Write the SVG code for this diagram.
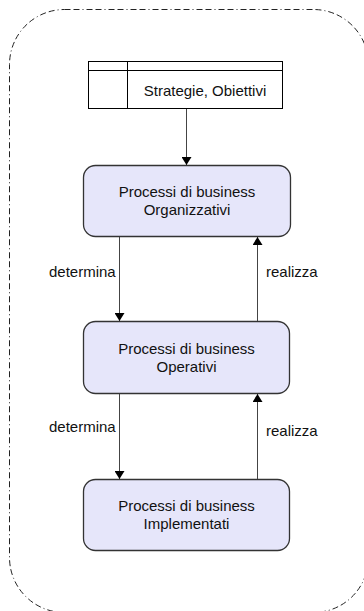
<svg xmlns="http://www.w3.org/2000/svg" width="364" height="611" viewBox="0 0 364 611">
  <style>
    .frame { fill: none; stroke: #222; stroke-width: 1; stroke-dasharray: 6 3 6 3 1 3; }
    .proc rect { fill: #e6e6fa; stroke: #333; stroke-width: 1.3; }
    .label { font-family: "Liberation Sans", Arial, sans-serif; font-size: 15px; fill: #111; }
    .mid { text-anchor: middle; }
    .edge { stroke: #444; stroke-width: 1; fill: none; marker-end: url(#head); }
  </style>
  <defs>
    <marker id="head" viewBox="0 0 8 10" refX="8" refY="5" markerWidth="8" markerHeight="10" markerUnits="userSpaceOnUse" orient="auto">
      <path d="M0,0 L8,5 L0,10 Z" fill="#000"/>
    </marker>
  </defs>

  <!-- enclosing boundary -->
  <rect class="frame" x="9.5" y="9.5" width="359" height="603" rx="55" ry="55"/>

  <!-- strategy table -->
  <g id="strategie">
    <rect x="88.5" y="61.5" width="194" height="47" fill="#fff" stroke="#000" stroke-width="1"/>
    <line x1="88.5" y1="70.5" x2="282.5" y2="70.5" stroke="#000"/>
    <line x1="127.5" y1="61.5" x2="127.5" y2="108.5" stroke="#000"/>
    <text class="label mid" x="205" y="96">Strategie, Obiettivi</text>
  </g>

  <g id="organizzativi" class="proc">
    <rect x="83.5" y="165.5" width="207" height="71" rx="12" ry="12"/>
    <text class="label mid" x="187" y="197">Processi di business</text>
    <text class="label mid" x="187" y="215">Organizzativi</text>
  </g>

  <g id="operativi" class="proc">
    <rect x="83.5" y="321.5" width="206" height="72" rx="12" ry="12"/>
    <text class="label mid" x="186.5" y="354">Processi di business</text>
    <text class="label mid" x="186.5" y="372">Operativi</text>
  </g>

  <g id="implementati" class="proc">
    <rect x="83.5" y="479.5" width="206" height="71" rx="12" ry="12"/>
    <text class="label mid" x="186.5" y="511">Processi di business</text>
    <text class="label mid" x="186.5" y="529">Implementati</text>
  </g>

  <g id="connectors">
    <line class="edge" x1="186.5" y1="109" x2="186.5" y2="165"/>
    <line class="edge" x1="119.5" y1="237" x2="119.5" y2="321"/>
    <line class="edge" x1="257.5" y1="321" x2="257.5" y2="237"/>
    <line class="edge" x1="119.5" y1="394" x2="119.5" y2="479"/>
    <line class="edge" x1="257.5" y1="479" x2="257.5" y2="394"/>
    <text class="label" x="49" y="277">determina</text>
    <text class="label" x="266" y="277">realizza</text>
    <text class="label" x="49" y="432">determina</text>
    <text class="label" x="266" y="436">realizza</text>
  </g>
</svg>
